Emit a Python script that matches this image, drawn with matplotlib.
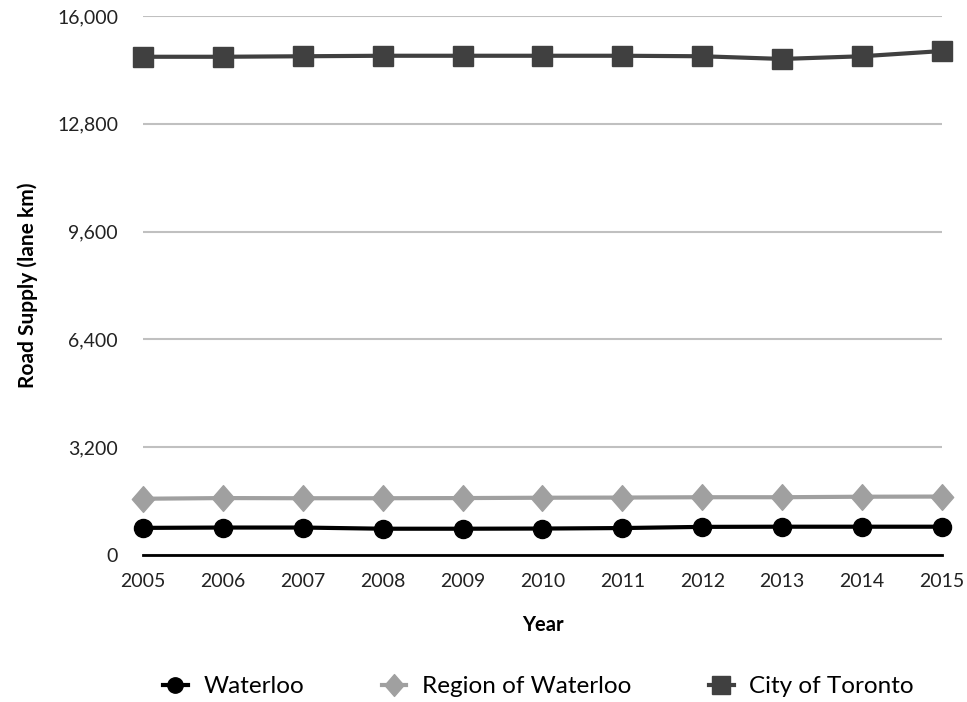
import numpy as np
import matplotlib
matplotlib.use('Agg')
import matplotlib.pyplot as plt
import matplotlib.ticker as mtick
from matplotlib.path import Path
from matplotlib.transforms import Affine2D

plt.rcParams['font.family'] = ['Lato', 'DejaVu Sans']

years = [2005, 2006, 2007, 2008, 2009, 2010, 2011, 2012, 2013, 2014, 2015]
waterloo = [805, 815, 815, 780, 780, 785, 800, 835, 840, 840, 840]
region = [1670, 1690, 1685, 1685, 1690, 1700, 1705, 1715, 1715, 1730, 1735]
toronto = [14790, 14790, 14805, 14820, 14820, 14820, 14820, 14805, 14725, 14805, 14960]
yticks = [0, 3200, 6400, 9600, 12800, 16000]

# slightly tall diamond
diamond = Path([(0, -1), (0.87, 0), (0, 1), (-0.87, 0), (0, -1)],
               [Path.MOVETO, Path.LINETO, Path.LINETO, Path.LINETO, Path.CLOSEPOLY])

fig = plt.figure(figsize=(9.67, 7.02), dpi=100)
ax = fig.add_axes([0.148, 0.2094, 0.826, 0.7678])

ax.plot(years, waterloo, color='black', lw=3, marker='o', ms=13, label='Waterloo', clip_on=False, zorder=3)
ax.plot(years, region, color='#a0a0a0', lw=3, marker=diamond, ms=18.5, label='Region of Waterloo', clip_on=False, zorder=3)
ax.plot(years, toronto, color='#404040', lw=3, marker='s', ms=14.5, label='City of Toronto', clip_on=False, zorder=3)

ax.set_xlim(2005, 2015)
ax.set_ylim(0, 16000)
ax.set_xticks(years)
ax.set_yticks(yticks)
ax.yaxis.set_major_formatter(mtick.StrMethodFormatter('{x:,.0f}'))
ax.grid(axis='y', color='#c0c0c0', lw=1.5)
ax.set_axisbelow(True)
for s in ['top', 'right', 'left']:
    ax.spines[s].set_visible(False)
ax.spines['bottom'].set_color('black')
ax.spines['bottom'].set_linewidth(2)
ax.tick_params(axis='both', length=0, labelsize=14, colors='#222222')
ax.tick_params(axis='x', pad=13)
ax.tick_params(axis='y', pad=18)

ax.set_xlabel('Year', fontsize=14.5, fontweight='bold', labelpad=18)
ax.set_ylabel('Road Supply (lane km)', fontsize=15, fontweight='bold', labelpad=14)

fig.legend(loc='center', bbox_to_anchor=(0.557, 0.022), ncol=3, frameon=False,
           fontsize=17.5, columnspacing=3.2, handlelength=1.0, handletextpad=0.65,
           markerscale=0.85, borderpad=0)

plt.savefig('out.png', dpi=100, facecolor='w')
plt.close()
